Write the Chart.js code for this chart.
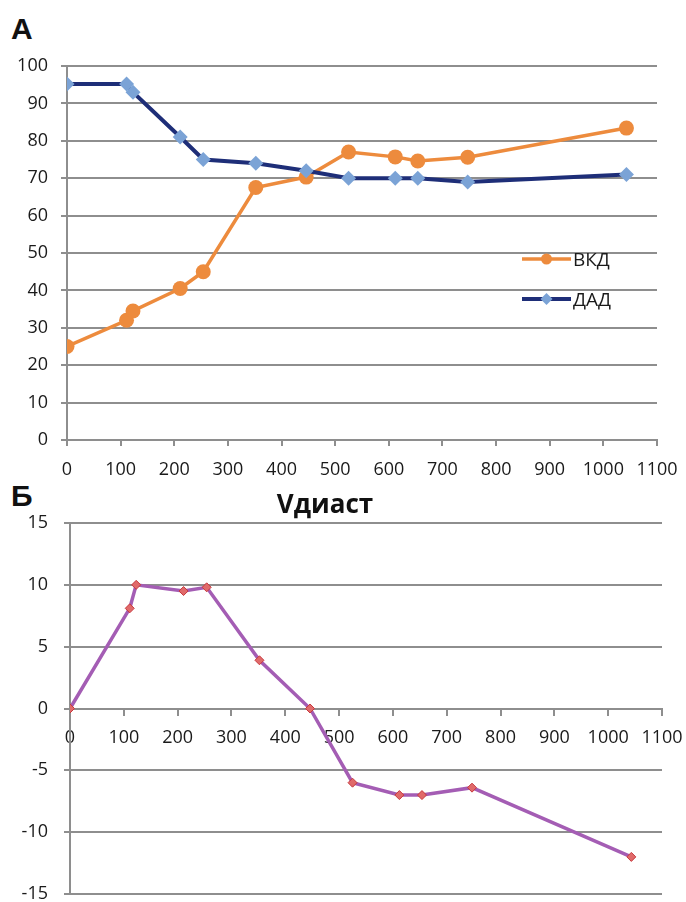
<!DOCTYPE html>
<html>
<head>
<meta charset="utf-8">
<script src="https://cdn.jsdelivr.net/npm/chart.js@4.4.0/dist/chart.umd.min.js"></script>
<style>
    body { margin: 0; background: #fff; width: 686px; height: 902px; position: relative; overflow: hidden; }
    .lbl { position: absolute; font: bold 30px "Liberation Sans", Arial, sans-serif; color: #111; line-height: normal; }
    .titulo { position: absolute; left: 0; width: 650px; text-align: center; font: bold 26px "Open Sans", sans-serif; line-height: 30px; color: #111; }
    #grafA { position: absolute; left: 0; top: 0; }
    #grafB { position: absolute; left: 0; top: 478px; }
</style>
</head>
<body>
<div class="lbl" style="left:11px;top:12px">А</div>
<div class="lbl" style="left:11px;top:479px">Б</div>
<canvas id="grafA" width="686" height="490"></canvas>
<canvas id="grafB" width="686" height="424"></canvas>
<div class="titulo" style="top:488px">Vдиаст</div>
<script>
// Datos
const tiempos = [0, 111, 123, 211, 254, 352, 446, 525, 612, 654, 747, 1043];
const vkd = [25, 32, 34.5, 40.5, 45, 67.5, 70.3, 77, 75.7, 74.6, 75.6, 83.4];
const dad = [95.2, 95.2, 93, 81, 75, 74, 72, 70, 70, 70, 69, 71];
const vdiast = [0, 8.1, 10, 9.5, 9.8, 3.9, 0, -6, -7, -7, -6.4, -12];
const ticksX = [0, 100, 200, 300, 400, 500, 600, 700, 800, 900, 1000, 1100];

const gris = '#8e8e8e';
const fuente = { family: '"Open Sans", sans-serif', size: 18, lineHeight: 1.2 };

function puntos(ys) {
    return tiempos.map((x, i) => ({ x: x, y: ys[i] }));
}

// quitar el relleno automático que Chart.js deja para las etiquetas
function sinRelleno(s) {
    s.paddingLeft = 0;
    s.paddingRight = 0;
    s.paddingTop = 0;
    s.paddingBottom = 0;
}

function ejeX(alto) {
    return {
        type: 'linear',
        min: 0,
        max: 1100,
        afterBuildTicks: s => { s.ticks = ticksX.map(v => ({ value: v })); },
        afterFit: s => { s.height = alto; sinRelleno(s); },
        ticks: { font: fuente, color: '#1a1a1a', padding: 13, maxRotation: 0, autoSkip: false, callback: v => String(v) },
        grid: { drawOnChartArea: false, drawTicks: true, tickLength: 6, color: gris, lineWidth: 2 },
        border: { color: gris, width: 2 }
    };
}

function ejeY(min, max, paso, relleno) {
    return {
        min: min,
        max: max,
        afterFit: s => { s.width = relleno; sinRelleno(s); },
        ticks: { stepSize: paso, font: fuente, color: '#1a1a1a', padding: relleno === 67 ? 13 : 16 },
        grid: { color: gris, lineWidth: 2, tickLength: 6 },
        border: { color: gris, width: 2 }
    };
}

// Leyenda dentro del área del gráfico
const leyendaPlugin = {
    id: 'leyendaInterna',
    afterDatasetsDraw(chart) {
        const ctx = chart.ctx;
        const a = chart.chartArea;
        const x0 = a.right - 135, x1 = a.right - 86;
        const items = [
            { texto: 'ВКД', y: a.top + 193, linea: '#ED8B3D', marca: '#ED8B3D', ancho: 3.5, estilo: 'circle', r: 5.5 },
            { texto: 'ДАД', y: a.top + 233, linea: '#1E2E78', marca: '#7BA3D6', ancho: 4, estilo: 'rectRot', r: 6 }
        ];
        ctx.save();
        items.forEach(it => {
            ctx.strokeStyle = it.linea;
            ctx.lineWidth = it.ancho;
            ctx.beginPath();
            ctx.moveTo(x0, it.y);
            ctx.lineTo(x1, it.y);
            ctx.stroke();
            ctx.fillStyle = it.marca;
            ctx.strokeStyle = it.marca;
            Chart.helpers.drawPoint(ctx, { pointStyle: it.estilo, radius: it.r, borderWidth: 0 }, (x0 + x1) / 2, it.y);
            ctx.fillStyle = '#1a1a1a';
            ctx.font = '19px "Open Sans", sans-serif';
            ctx.textBaseline = 'middle';
            ctx.fillText(it.texto, x1 + 2, it.y + 2);
        });
        ctx.restore();
    }
};

// Gráfico A
new Chart(document.getElementById('grafA'), {
    type: 'line',
    data: {
        datasets: [
            {
                label: 'ВКД',
                data: puntos(vkd),
                borderColor: '#ED8B3D',
                backgroundColor: '#ED8B3D',
                borderWidth: 3.5,
                pointStyle: 'circle',
                pointRadius: 7.5,
                pointBorderWidth: 0,
                order: 1
            },
            {
                label: 'ДАД',
                data: puntos(dad),
                borderColor: '#1E2E78',
                backgroundColor: '#7BA3D6',
                pointBackgroundColor: '#7BA3D6',
                pointBorderColor: '#7BA3D6',
                borderWidth: 4,
                pointStyle: 'rectRot',
                pointRadius: 7.5,
                pointBorderWidth: 0,
                order: 0
            }
        ]
    },
    options: {
        responsive: false,
        animation: false,
        layout: { padding: { top: 66, left: 0, right: 29, bottom: 0 } },
        plugins: { legend: { display: false }, tooltip: { enabled: false } },
        scales: {
            x: ejeX(50),
            y: ejeY(0, 100, 10, 67)
        }
    },
    plugins: [leyendaPlugin]
});

// Gráfico B
new Chart(document.getElementById('grafB'), {
    type: 'line',
    data: {
        datasets: [{
            label: 'Vдиаст',
            data: puntos(vdiast),
            borderColor: '#A45DB4',
            backgroundColor: '#E06A6A',
            pointBackgroundColor: '#E06A6A',
            pointBorderColor: '#C8383D',
            borderWidth: 3.5,
            pointStyle: 'rectRot',
            pointRadius: 4.5,
            pointBorderWidth: 1
        }]
    },
    options: {
        responsive: false,
        animation: false,
        layout: { padding: { top: 45, left: 0, right: 24, bottom: 8 } },
        plugins: { legend: { display: false }, tooltip: { enabled: false } },
        scales: {
            x: Object.assign(ejeX(0), { position: { y: 0 } }),
            y: ejeY(-15, 15, 5, 70)
        }
    }
});
</script>
</body>
</html>
